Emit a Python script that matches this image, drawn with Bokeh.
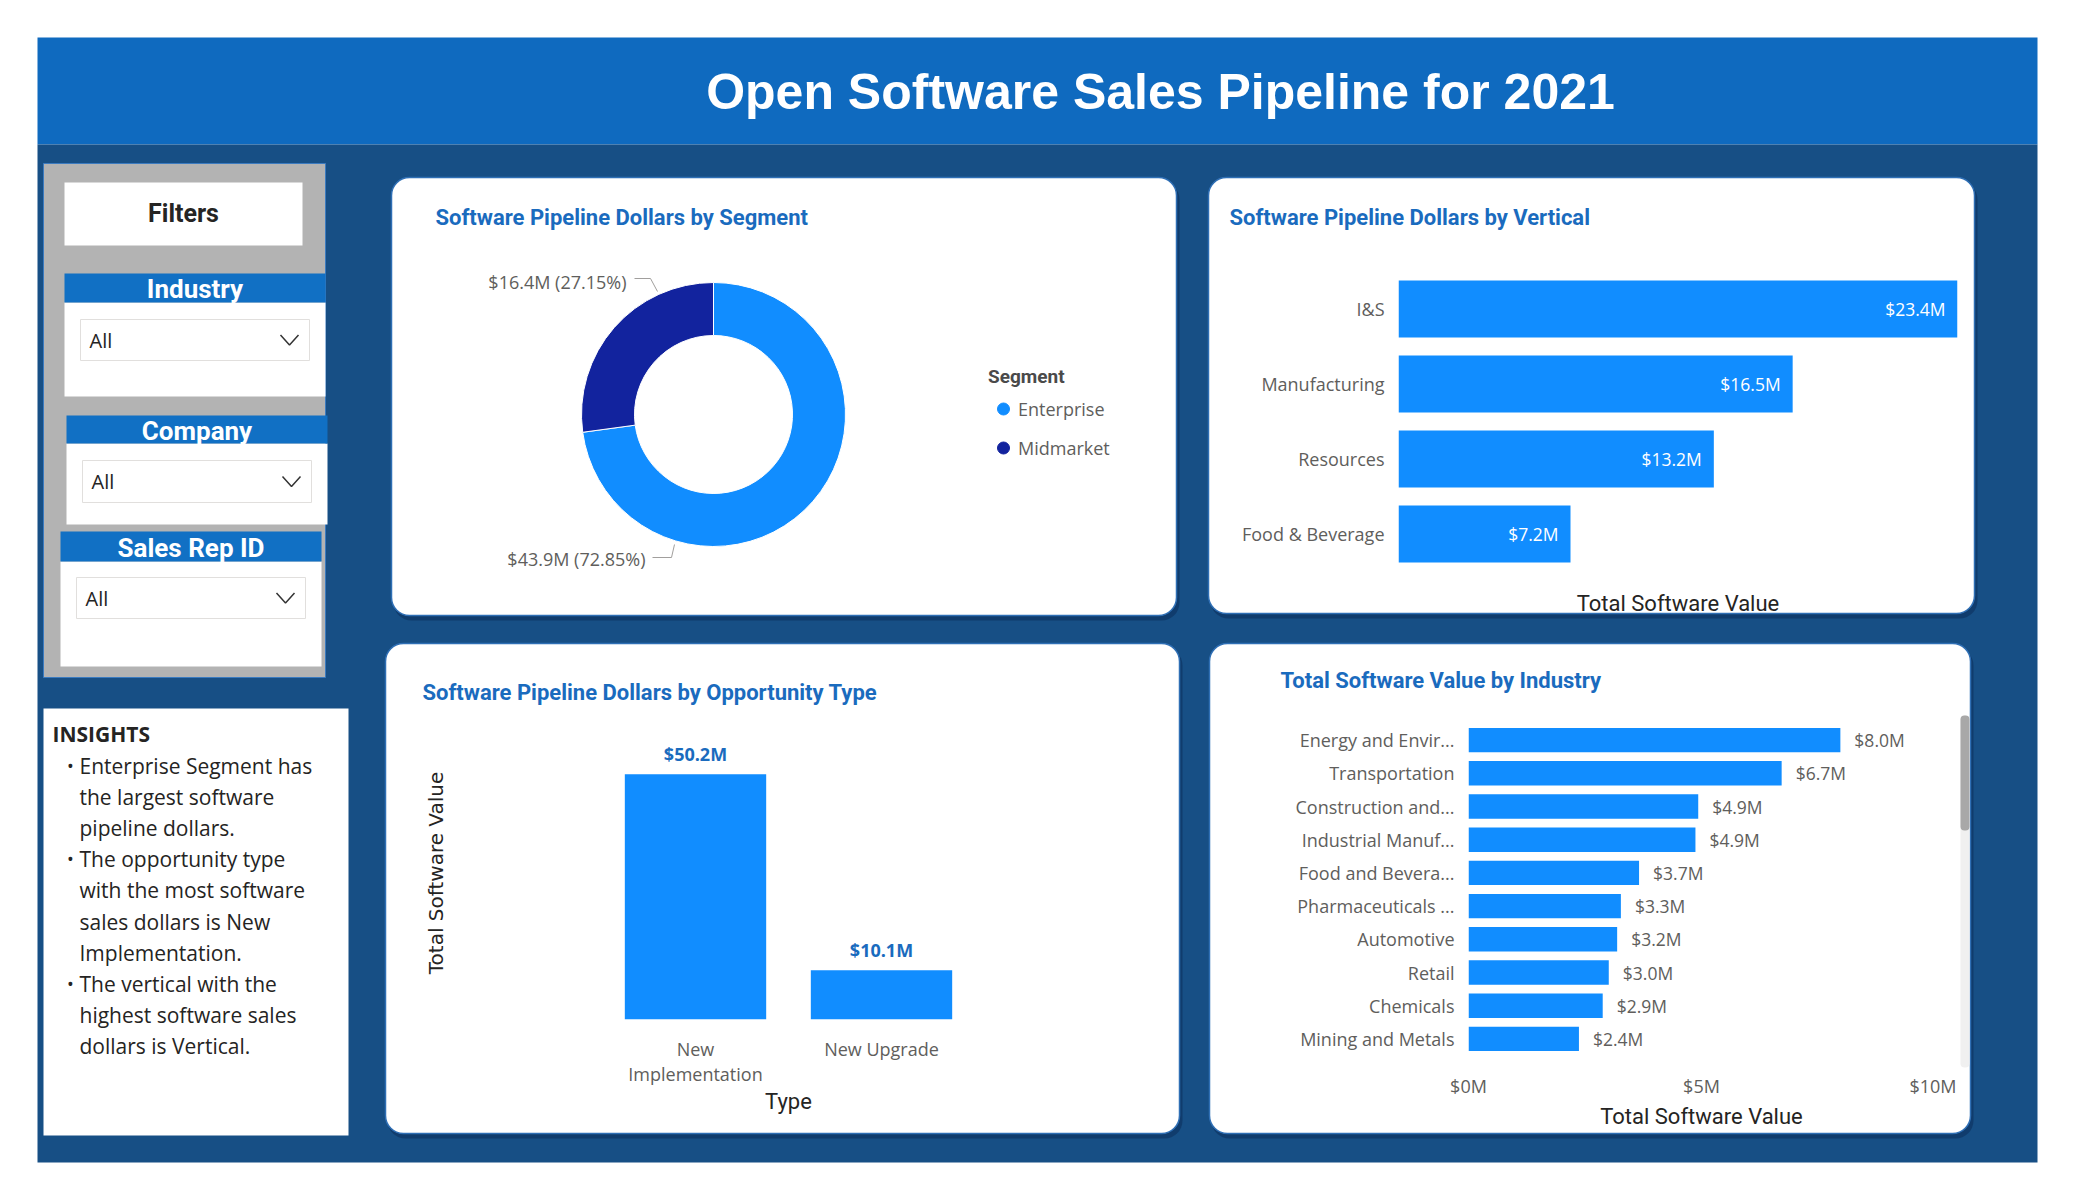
import math
from bokeh.plotting import figure
from bokeh.models import (Range1d, FactorRange, ColumnDataSource, Legend, LegendItem,
                          FixedTicker, PrintfTickFormatter)
from bokeh.embed import file_html
from bokeh.resources import INLINE
from bokeh.core.properties import value

# ---------------- data ----------------
segments = ["Enterprise", "Midmarket"]
segment_values = [43.9, 16.4]          # $M
segment_shares = [72.85, 27.15]        # %

verticals = ["I&S", "Manufacturing", "Resources", "Food & Beverage"]
vertical_values = [23.4, 16.5, 13.2, 7.2]

opportunity_types = ["New Implementation", "New Upgrade"]
opportunity_values = [50.2, 10.1]

industries = ["Energy and Envir...", "Transportation", "Construction and...",
              "Industrial Manuf...", "Food and Bevera...", "Pharmaceuticals ...",
              "Automotive", "Retail", "Chemicals", "Mining and Metals"]
industry_values = [7.98, 6.72, 4.93, 4.87, 3.66, 3.27, 3.19, 3.01, 2.88, 2.37]
industry_ticks = [0, 5, 10]

page_title = "Open Software Sales Pipeline for 2021"
filter_names = ["Industry", "Company", "Sales Rep ID"]
insight_lines = [("Enterprise Segment has", True), ("the largest software", False),
                 ("pipeline dollars.", False), ("The opportunity type", True),
                 ("with the most software", False), ("sales dollars is New", False),
                 ("Implementation.", False), ("The vertical with the", True),
                 ("highest software sales", False), ("dollars is Vertical.", False)]

# ---------------- styles ----------------
W, H = 2075, 1200
BANNER = "#0F6ABF"
DARK = "#174F85"
HDR = "#1170C4"
BAR = "#118DFF"
NAVY = "#12239E"
TITLE_BLUE = "#1A6BBE"
INK = "#252423"
GRAY = "#605E5C"


def money(v):
    return f"${v:.1f}M"


def clean(p):
    p.toolbar_location = None
    p.outline_line_color = None
    p.background_fill_color = None
    p.border_fill_color = None
    for g in p.grid:
        g.visible = False


# ---------------- background / chrome ----------------
bg = figure(width=W, height=H, x_range=Range1d(0, W), y_range=Range1d(H, 0),
            x_axis_type=None, y_axis_type=None, toolbar_location=None,
            output_backend="svg", min_border=0, outline_line_color=None,
            background_fill_color="white", border_fill_color="white")


def box(l, t, r, b, fill, line=None, lw=1.0, radius=0, alpha=1.0):
    bg.quad(left=[l], right=[r], top=[t], bottom=[b], fill_color=fill, fill_alpha=alpha,
            line_color=line, line_width=lw, border_radius=radius)


def txt(x, y, s, size, color=INK, font="Open Sans", bold=False, align="left"):
    bg.text(x=[x], y=[y], text=[s], text_font=value(font), text_font_size=f"{size}px",
            text_color=color, text_font_style="bold" if bold else "normal",
            text_align=align, text_baseline="middle")


box(37, 37, 2037, 144, BANNER)
box(37, 144, 2037, 1162, DARK)
txt(1160, 91, page_title, 50, "white", "Liberation Sans", True, "center")

# filter panel
box(43, 163, 325, 677, "#B3B3B3", line="#3B7BC0", lw=1)
box(64, 182, 302, 245, "white")
txt(183, 213, "Filters", 25, INK, "Roboto", True, "center")
headers = [(64, 273, 325, 302, 396), (66, 415, 327, 443, 524), (60, 531, 321, 561, 666)]
drops = [(80, 319, 309, 360), (82, 460, 311, 502), (76, 577, 305, 618)]
for name, (l, t, r, b, wb), (dl, dt, dr, db) in zip(filter_names, headers, drops):
    box(l, b, r, wb, "white")
    box(l, t, r, b, HDR)
    txt((l + r) / 2, (t + b) / 2 + 1, name, 26, "white", "Roboto", True, "center")
    box(dl, dt, dr, db, "white", line="#E1DFDD", lw=1)
    my = (dt + db) / 2
    txt(dl + 9, my, "All", 20, INK, "Open Sans")
    cx = dr - 20
    bg.line(x=[cx - 9, cx, cx + 9], y=[my - 5, my + 5, my - 5], line_color="#333333", line_width=1.5)

# insights
box(43, 708, 348, 1135, "white")
txt(52, 733, "INSIGHTS", 21, INK, "Open Sans", True)
for i, (line, bullet) in enumerate(insight_lines):
    y = 765 + i * 31.2
    if bullet:
        txt(70, y, "\u2022", 18, INK, "Open Sans", False, "center")
    txt(79, y, line, 21, INK, "Open Sans")

# cards
cards = [(391, 177, 1176, 615), (1208, 177, 1974, 613), (385, 643, 1179, 1133), (1209, 643, 1970, 1133)]
for (l, t, r, b) in cards:
    box(l + 2, t + 4, r + 3, b + 5, "#0E3563", radius=18, alpha=0.7)
    box(l, t, r, b, "white", line="#2F6FB5", lw=1.5, radius=18)

txt(435, 217, "Software Pipeline Dollars by Segment", 22, TITLE_BLUE, "Roboto", True)
txt(1229, 217, "Software Pipeline Dollars by Vertical", 22, TITLE_BLUE, "Roboto", True)
txt(422, 692, "Software Pipeline Dollars by Opportunity Type", 22, TITLE_BLUE, "Roboto", True)
txt(1280, 680, "Total Software Value by Industry", 22, TITLE_BLUE, "Roboto", True)

# scrollbar of industry visual
box(1960, 715, 1969, 1067, "#F0F0F0", radius=4)
box(1960, 715, 1969, 830, "#A8A8A8", radius=4)

# ---------------- donut: by segment ----------------
CX, CY = 713, 414
F1L, F1T, F1W, F1H = 470, 254, 650, 320
f1 = figure(width=F1W, height=F1H, x_range=Range1d(F1L - CX, F1L + F1W - CX),
            y_range=Range1d(CY - (F1T + F1H), CY - F1T), x_axis_type=None, y_axis_type=None,
            output_backend="svg", toolbar_location=None, min_border=0)
clean(f1)
total = sum(segment_shares)
starts, ends, acc = [], [], 0.0
for s in segment_shares:
    starts.append(math.pi / 2 - 2 * math.pi * acc / total)
    acc += s
    ends.append(math.pi / 2 - 2 * math.pi * acc / total)
seg_src = ColumnDataSource(dict(seg=segments, start=starts, end=ends, color=[BAR, NAVY],
                                cx=[0, 0], cy=[0, 0]))
f1.annular_wedge(x="cx", y="cy", inner_radius=79, outer_radius=132, start_angle="start",
                 end_angle="end", direction="clock", fill_color="color", line_color="white",
                 line_width=1, source=seg_src)
seg_labels = [f"{money(v)} ({s:.2f}%)" for v, s in zip(segment_values, segment_shares)]
f1.text(x=[-68, -87], y=[-144, 133], text=seg_labels, text_align="right", text_baseline="middle",
        text_font=value("Open Sans"), text_font_size="18px", text_color=GRAY)
f1.multi_line(xs=[[-61, -42, -39], [-79, -63, -56]], ys=[[-143, -143, -130], [136, 136, 123]],
              line_color="#A19F9D", line_width=1)
# legend keys (zero-size markers sharing the donut's source)
leg_r = f1.scatter(x="cx", y="cy", size=0, marker="circle", fill_color="color",
                   line_color="color", source=seg_src)
legend = Legend(items=[LegendItem(label=s, renderers=[leg_r], index=i) for i, s in enumerate(segments)],
                title="Segment", location=(518, 108), orientation="vertical", padding=0, margin=0,
                border_line_color=None, background_fill_alpha=0, glyph_width=30, glyph_height=37,
                label_height=37, label_standoff=0, spacing=2, label_text_font="Open Sans",
                label_text_font_size="18px", label_text_color=GRAY, title_text_font="Roboto",
                title_text_font_style="bold", title_text_font_size="19px",
                title_text_color="#4A4A4A", title_standoff=2)
f1.add_layout(legend)


def style_axes(p):
    for ax in p.axis:
        ax.axis_line_color = None
        ax.major_tick_line_color = None
        ax.minor_tick_line_color = None
        ax.major_tick_out = 0
        ax.major_tick_in = 0
        ax.major_label_text_font = "Open Sans"
        ax.major_label_text_font_size = "18px"
        ax.major_label_text_color = GRAY
        ax.axis_label_text_font = "Roboto"
        ax.axis_label_text_font_size = "22px"
        ax.axis_label_text_font_style = "normal"
        ax.axis_label_text_color = INK


# ---------------- vertical bars ----------------
f2 = figure(width=752, height=430, y_range=FactorRange(factors=verticals[::-1]),
            x_range=Range1d(0, max(vertical_values)), min_border_left=183, min_border_right=10,
            min_border_top=81, min_border_bottom=49, output_backend="svg", toolbar_location=None)
clean(f2)
v_src = ColumnDataSource(dict(cat=verticals, v=vertical_values, lab=[money(v) for v in vertical_values]))
f2.hbar(y="cat", left=0, right="v", height=0.76, fill_color=BAR, line_color=None, source=v_src)
f2.text(x="v", y="cat", text="lab", x_offset=-12, text_align="right", text_baseline="middle",
        text_color="white", text_font=value("Open Sans"), text_font_size="17.5px", source=v_src)
style_axes(f2)
f2.xaxis.ticker = FixedTicker(ticks=[])
f2.xaxis.major_label_standoff = 0
f2.xaxis.axis_label = "Total Software Value"
f2.xaxis.axis_label_standoff = 19
f2.yaxis.major_label_standoff = 14

# ---------------- opportunity type ----------------
# two-line display form of the long category name
opp_factors = [t.replace(" ", "\n", 1) if len(t) > 12 else t for t in opportunity_types]
f3 = figure(width=600, height=429, x_range=FactorRange(factors=opp_factors),
            y_range=Range1d(0, 60), min_border_left=202, min_border_right=26, min_border_top=26,
            min_border_bottom=110, output_backend="svg", toolbar_location=None)
clean(f3)
o_src = ColumnDataSource(dict(cat=opp_factors, v=opportunity_values,
                              lab=[money(v) for v in opportunity_values]))
f3.vbar(x="cat", bottom=0, top="v", width=0.76, fill_color=BAR, line_color=None, source=o_src)
f3.text(x="cat", y="v", text="lab", y_offset=-8, text_align="center", text_baseline="bottom",
        text_color=TITLE_BLUE, text_font=value("Open Sans"), text_font_style="bold",
        text_font_size="18px", source=o_src)
style_axes(f3)
f3.xaxis.major_label_standoff = 17
f3.xaxis.major_label_text_line_height = 1.05
f3.xaxis.axis_label = "Type"
f3.xaxis.axis_label_standoff = 0
f3.yaxis.ticker = FixedTicker(ticks=[])
f3.yaxis.major_label_standoff = 0
f3.yaxis.axis_label = "Total Software Value"
f3.yaxis.axis_label_text_font = "DejaVu Sans"
f3.yaxis.axis_label_text_font_size = "20px"
f3.yaxis.axis_label_standoff = 155

# ---------------- industry ----------------
f4 = figure(width=716, height=431, y_range=FactorRange(factors=industries[::-1]),
            x_range=Range1d(0, industry_ticks[-1]), min_border_left=228, min_border_right=22,
            min_border_top=23, min_border_bottom=75, output_backend="svg", toolbar_location=None)
clean(f4)
i_src = ColumnDataSource(dict(cat=industries, v=industry_values, lab=[money(v) for v in industry_values]))
f4.hbar(y="cat", left=0, right="v", height=0.735, fill_color=BAR, line_color=None, source=i_src)
f4.text(x="v", y="cat", text="lab", x_offset=14, text_align="left", text_baseline="middle",
        text_color=GRAY, text_font=value("Open Sans"), text_font_size="17.5px", source=i_src)
style_axes(f4)
f4.xaxis.ticker = FixedTicker(ticks=industry_ticks)
f4.xaxis.formatter = PrintfTickFormatter(format="$%dM")
f4.xaxis.major_label_standoff = 18
f4.xaxis.axis_label = "Total Software Value"
f4.xaxis.axis_label_standoff = 3
f4.yaxis.major_label_standoff = 14

# ---------------- compose (independent roots, absolutely placed) ----------------
placements = [(bg, (0, 0)), (f1, (F1L, F1T)), (f2, (1215, 190)), (f3, (400, 700)), (f4, (1240, 700))]
for f, (l, t) in placements:
    f.styles = {"position": "absolute", "left": f"{l}px", "top": f"{t}px"}

open("out.html", "w").write(file_html([f for f, _ in placements], INLINE))
